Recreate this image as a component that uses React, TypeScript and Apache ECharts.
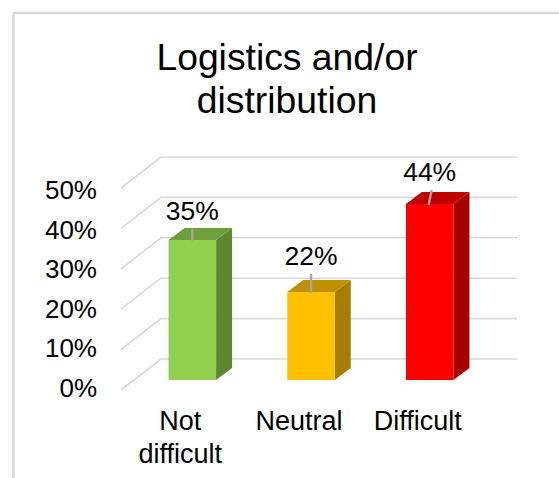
import React, { useEffect, useRef } from "react";
import * as echarts from "echarts";

const titleText = "Logistics and/or\ndistribution";
const categories = ["Not difficult", "Neutral", "Difficult"];
const values = [35, 22, 44];
const valueLabels = ["35%", "22%", "44%"];
const ticks = [0, 10, 20, 30, 40, 50];
const frontColors = ["#92D050", "#FFC000", "#FF0000"];
const topColors = ["#6F9E3C", "#BF9000", "#BF0000"];
const sideColors = ["#5F8731", "#A67D00", "#A60000"];

const FONT = '"Liberation Sans", Arial, sans-serif';
const FLOOR_DX = 40;
const FLOOR_DY = -31;
const GRID_COLOR = "#D9D9D9";
// perspective: gridlines and bars are a little taller than the axis-label plane
const GRID_STRETCH = 202 / 198;
const GRID_SHIFT = 2;
const BAR_STRETCH = 200 / 198;

const BAR_DX = 12;
const BAR_DY = -8;
const BAR_W = 47.5;
const DEPTH_DX = 16;
const DEPTH_DY = -12;
// how far each value label's centre sits above the bar's front top edge, and its leader line
const labelLift = [29, 36, 32];
const leaderTop = [0, 0, 2];
const leaderBottom = [0, 0, -1];
const LEADER_GAP = 18;

export default function App() {
  const ref = useRef<HTMLDivElement>(null);
  useEffect(() => {
    document.body.style.margin = "0";
    const chart = echarts.init(ref.current!, null, { renderer: "svg" });
    chart.setOption({
      animation: false,
      backgroundColor: "#fff",
      title: {
        text: titleText,
        left: 282,
        top: 30,
        textAlign: "center",
        textStyle: { fontFamily: FONT, fontSize: 37.3, fontWeight: "normal", color: "#000", lineHeight: 43 },
      },
      grid: { left: 121, right: 82, top: 190, bottom: 90 },
      xAxis: {
        type: "category",
        data: categories,
        axisLine: { show: false },
        axisTick: { show: false },
        axisLabel: {
          interval: 0,
          margin: 16,
          fontFamily: FONT,
          fontSize: 27,
          color: "#000",
          lineHeight: 33,
          formatter: (v: string) => v.replace(" ", "\n"),
        },
      },
      yAxis: {
        type: "value",
        min: 0,
        max: 50,
        interval: 10,
        splitLine: { show: false },
        axisLine: { show: false },
        axisTick: { show: false },
        axisLabel: {
          margin: 24,
          fontFamily: FONT,
          fontSize: 26,
          color: "#000",
          formatter: "{value}%",
        },
      },
      series: [
        {
          type: "custom",
          silent: true,
          z: 1,
          data: ticks.map((t) => [0, t]),
          renderItem: (params: any, api: any) => {
            const cs = params.coordSys;
            const base = api.coord([0, 0])[1];
            const raw = api.coord([0, api.value(1)])[1];
            const y = base + GRID_SHIFT + (raw - base) * GRID_STRETCH;
            return {
              type: "polyline",
              shape: {
                points: [
                  [cs.x, y],
                  [cs.x + FLOOR_DX, y + FLOOR_DY],
                  [cs.x + cs.width + FLOOR_DX, y + FLOOR_DY],
                ],
              },
              style: { stroke: GRID_COLOR, lineWidth: 1.6, fill: "none" },
            };
          },
        },
        {
          type: "custom",
          silent: true,
          z: 2,
          data: values.map((v, i) => [i, v]),
          renderItem: (params: any, api: any) => {
            const i = params.dataIndex;
            const top = api.coord([i, api.value(1)]);
            const base = api.coord([i, 0]);
            const xl = top[0] + BAR_DX - BAR_W / 2;
            const xr = xl + BAR_W;
            const yb = base[1] + BAR_DY;
            const yt = yb + (top[1] - base[1]) * BAR_STRETCH;
            const cx = (xl + xr) / 2;
            const ly = yt - labelLift[i];
            return {
              type: "group",
              children: [
                {
                  type: "polygon",
                  shape: { points: [[xr, yt], [xr + DEPTH_DX, yt + DEPTH_DY], [xr + DEPTH_DX, yb + DEPTH_DY], [xr, yb]] },
                  style: { fill: sideColors[i] },
                },
                {
                  type: "polygon",
                  shape: { points: [[xl, yt], [xl + DEPTH_DX, yt + DEPTH_DY], [xr + DEPTH_DX, yt + DEPTH_DY], [xr, yt]] },
                  style: { fill: topColors[i] },
                },
                { type: "rect", shape: { x: xl, y: yt, width: BAR_W, height: yb - yt }, style: { fill: frontColors[i] } },
                {
                  type: "line",
                  shape: {
                    x1: cx + leaderTop[i],
                    y1: ly + LEADER_GAP,
                    x2: cx + leaderBottom[i],
                    y2: yt + 1,
                  },
                  style: { stroke: "#A6A6A6", lineWidth: 2.4 },
                },
                {
                  type: "text",
                  style: {
                    text: valueLabels[i],
                    x: cx,
                    y: ly,
                    align: "center",
                    verticalAlign: "middle",
                    font: `26.5px ${FONT}`,
                    fill: "#000",
                  },
                },
              ],
            };
          },
        },
      ],
      graphic: [
        { type: "line", shape: { x1: 13, y1: 13, x2: 559, y2: 13 }, style: { stroke: GRID_COLOR, lineWidth: 2.5 }, silent: true },
        { type: "line", shape: { x1: 13.5, y1: 12, x2: 13.5, y2: 478 }, style: { stroke: GRID_COLOR, lineWidth: 2.5 }, silent: true },
      ],
    });
    return () => chart.dispose();
  }, []);
  return <div ref={ref} style={{ width: 559, height: 478 }} />;
}
